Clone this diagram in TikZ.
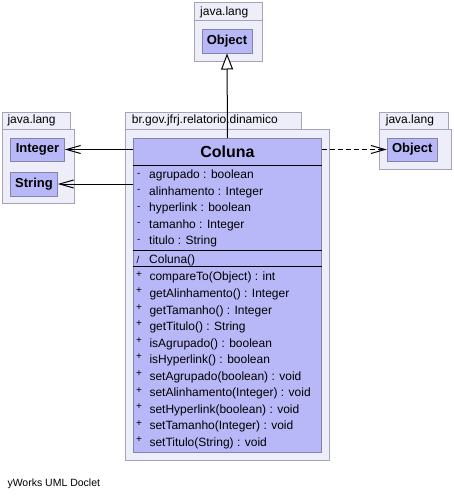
\documentclass[tikz,border=0pt]{standalone}
\usepackage{fontspec}
\setmainfont{Liberation Sans}
\usepackage{xcolor}
\usetikzlibrary{arrows.meta, positioning}
\definecolor{pkgfill}{HTML}{EEEEFA}
\definecolor{pkgdraw}{HTML}{A4A4B4}
\definecolor{clsfill}{HTML}{B8B8F8}
\definecolor{clsdraw}{HTML}{8484A8}
\tikzset{
  pkg/.style={draw=pkgdraw, fill=pkgfill, line width=1pt},
  pkglabel/.style={anchor=west, inner sep=0pt, text height=9pt, text depth=2.5pt, font=\fontsize{12}{14}\selectfont},
  cls/.style={draw=clsdraw, fill=clsfill, line width=1pt, inner sep=0pt, font=\fontsize{13}{15}\selectfont\bfseries},
  member/.style={anchor=west, inner sep=0pt, text height=9pt, text depth=2.5pt, font=\fontsize{12}{14}\selectfont},
  marker/.style={inner sep=0pt, font=\fontsize{10}{11}\selectfont},
  dep/.style={line width=1pt, -{Straight Barb[length=14pt, width=8pt]}},
}

\begin{document}
\begin{tikzpicture}[x=1pt, y=-1pt]
    \useasboundingbox (0,0) rectangle (454,498);

    % Packages (tab + body)
    \draw[pkg] (194.3,2.3) rectangle (262.3,20.7);
    \draw[pkg] (194.3,20.7) rectangle (262.3,61.7);
    \draw[pkg] (2.7,112) rectangle (70.7,129);
    \draw[pkg] (2.7,129) rectangle (74,203);
    \draw[pkg] (125.7,112) rectangle (301.3,129);
    \draw[pkg] (125.7,129) rectangle (329.3,460);
    \draw[pkg] (379.3,112) rectangle (448.3,129);
    \draw[pkg] (379.3,129) rectangle (451.7,169.3);

    \node[pkglabel] (pkgtop) at (200,12) {java.lang};
    \node[pkglabel] (pkgleft) at (7.3,120.7) {java.lang};
    \node[pkglabel] (pkgmain) at (131.7,120.7) {br.gov.jfrj.relatorio.dinamico};
    \node[pkglabel] (pkgright) at (385.7,120.7) {java.lang};

    % Classes
    \node[cls, minimum width=50pt, minimum height=24pt] (objtop) at (227,41) {Object};
    \node[cls, minimum width=53.6pt, minimum height=23pt] (intg) at (37.5,149.5) {Integer};
    \node[cls, minimum width=46.6pt, minimum height=24pt] (strg) at (34,184) {String};
    \node[cls, minimum width=50pt, minimum height=23pt] (objright) at (412.3,149.5) {Object};
    \node[cls, minimum width=187.6pt, minimum height=314pt] (coluna) at (227.5,295.3) {};

    % Coluna compartments
    \node[font=\fontsize{16}{18}\selectfont\bfseries, inner sep=0pt] (title) at (227.5,152) {Coluna};
    \draw[line width=1pt] (coluna.west |- 0,165.7) -- (coluna.east |- 0,165.7);
    \draw[line width=1pt] (coluna.west |- 0,250) -- (coluna.east |- 0,250);
    \draw[line width=1pt] (coluna.west |- 0,266.7) -- (coluna.east |- 0,266.7);

    \foreach \txt [count=\i from 0] in {agrupado : boolean, alinhamento : Integer,
        hyperlink : boolean, tamanho : Integer, titulo : String} {
      \node[marker] (am\i) at (138.7,175.7+16.4*\i-0.8) {-};
      \node[member] (attr\i) at (149,175.7+16.4*\i) {\txt};
    }

    \node[marker] (cm) at (138,259.5) {/};
    \node[member] (ctor) at (149,260.7) {Coluna()};

    \foreach \txt [count=\i from 0] in {compareTo(Object) : int, getAlinhamento() : Integer,
        getTamanho() : Integer, getTitulo() : String, isAgrupado() : boolean,
        isHyperlink() : boolean, setAgrupado(boolean) : void,
        setAlinhamento(Integer) : void, setHyperlink(boolean) : void,
        setTamanho(Integer) : void, setTitulo(String) : void} {
      \node[marker] (mm\i) at (139,277.7+16.56*\i-3.5) {+};
      \node[member] (meth\i) at (149.3,277.7+16.56*\i) {\txt};
    }

    % Relations
    \draw[line width=1pt, -{Triangle[length=16pt, width=12pt, fill=white]}] (coluna.north) -- (objtop.south);
    \draw[dep] (intg.east -| coluna.west) -- (intg.east);
    \draw[dep] (strg.east -| coluna.west) -- (strg.east);
    \draw[dep, dash pattern=on 5pt off 3pt] (objright.west -| coluna.east) -- (objright.west);

    \node[anchor=west, inner sep=0pt, font=\fontsize{10.5}{12}\selectfont] (footer) at (7.3,484) {yWorks UML Doclet};
\end{tikzpicture}
\end{document}
